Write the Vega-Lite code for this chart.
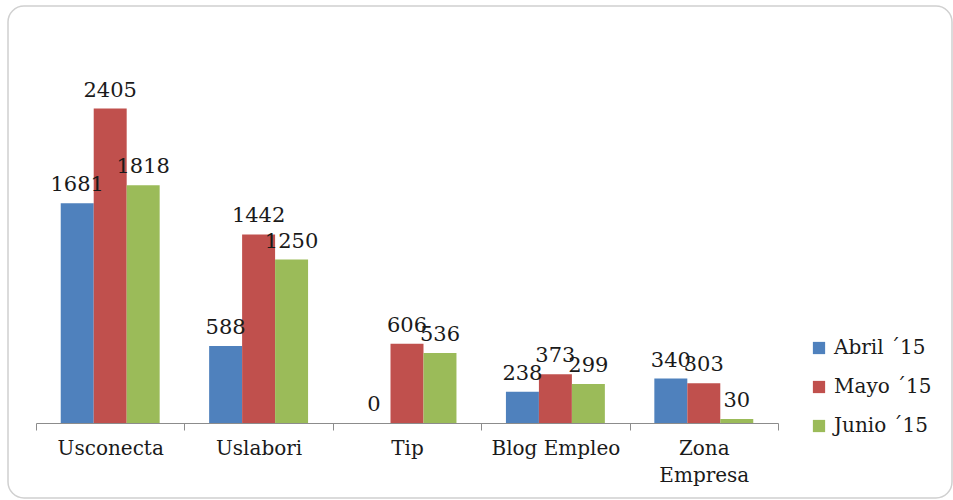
{
  "$schema": "https://vega.github.io/schema/vega-lite/v6.json",
  "width": 944,
  "height": 492,
  "autosize": {"type": "none"},
  "padding": {"left": 8, "top": 6, "right": 1, "bottom": 2},
  "background": "white",
  "config": {
    "view": {"stroke": "#d0d0d0", "strokeWidth": 1.5, "cornerRadius": 16},
    "font": "DejaVu Serif"
  },
  "data": {
    "values": [
      {"site": "Usconecta", "mes": "Abril ´15", "visitas": 1681},
      {"site": "Usconecta", "mes": "Mayo ´15", "visitas": 2405},
      {"site": "Usconecta", "mes": "Junio ´15", "visitas": 1818},
      {"site": "Uslabori", "mes": "Abril ´15", "visitas": 588},
      {"site": "Uslabori", "mes": "Mayo ´15", "visitas": 1442},
      {"site": "Uslabori", "mes": "Junio ´15", "visitas": 1250},
      {"site": "Tip", "mes": "Abril ´15", "visitas": 0},
      {"site": "Tip", "mes": "Mayo ´15", "visitas": 606},
      {"site": "Tip", "mes": "Junio ´15", "visitas": 536},
      {"site": "Blog Empleo", "mes": "Abril ´15", "visitas": 238},
      {"site": "Blog Empleo", "mes": "Mayo ´15", "visitas": 373},
      {"site": "Blog Empleo", "mes": "Junio ´15", "visitas": 299},
      {"site": "Zona Empresa", "mes": "Abril ´15", "visitas": 340},
      {"site": "Zona Empresa", "mes": "Mayo ´15", "visitas": 303},
      {"site": "Zona Empresa", "mes": "Junio ´15", "visitas": 30}
    ]
  },
  "encoding": {
    "x": {
      "field": "site",
      "type": "nominal",
      "sort": null,
      "scale": {"range": [28, 770], "paddingInner": 0, "paddingOuter": 0},
      "axis": {
        "title": null,
        "orient": "bottom",
        "offset": -75,
        "labelAngle": 0,
        "labelFont": "DejaVu Serif",
        "labelFontSize": 20,
        "labelColor": "#1a1a1a",
        "labelPadding": 8,
        "labelLineHeight": 27,
        "labelExpr": "datum.value == 'Zona Empresa' ? ['Zona', 'Empresa'] : datum.value",
        "tickBand": "extent",
        "tickSize": 7,
        "tickColor": "#8c8c8c",
        "domainColor": "#8c8c8c",
        "grid": false
      }
    },
    "xOffset": {
      "field": "mes",
      "type": "nominal",
      "sort": ["Abril ´15", "Mayo ´15", "Junio ´15"],
      "scale": {"paddingInner": 0, "paddingOuter": 0.75}
    },
    "y": {
      "field": "visitas",
      "type": "quantitative",
      "scale": {"domain": [-574, 3190], "nice": false, "zero": false},
      "axis": null
    }
  },
  "layer": [
    {
      "mark": {"type": "bar"},
      "encoding": {
        "y2": {"datum": 0},
        "color": {
          "field": "mes",
          "type": "nominal",
          "sort": ["Abril ´15", "Mayo ´15", "Junio ´15"],
          "scale": {"range": ["#4F81BD", "#C0504D", "#9BBB59"]},
          "legend": {
            "title": null,
            "orient": "none",
            "legendX": 801,
            "legendY": 332,
            "symbolType": "square",
            "symbolSize": 150,
            "symbolStrokeWidth": 0,
            "labelFont": "DejaVu Serif",
            "labelFontSize": 20,
            "labelColor": "#1a1a1a",
            "labelOffset": 5,
            "rowPadding": 19
          }
        }
      }
    },
    {
      "mark": {
        "type": "text",
        "baseline": "alphabetic",
        "align": "center",
        "dy": -12,
        "fontSize": 21,
        "font": "DejaVu Serif",
        "color": "#1a1a1a"
      },
      "encoding": {
        "text": {"field": "visitas", "type": "quantitative"}
      }
    }
  ]
}
